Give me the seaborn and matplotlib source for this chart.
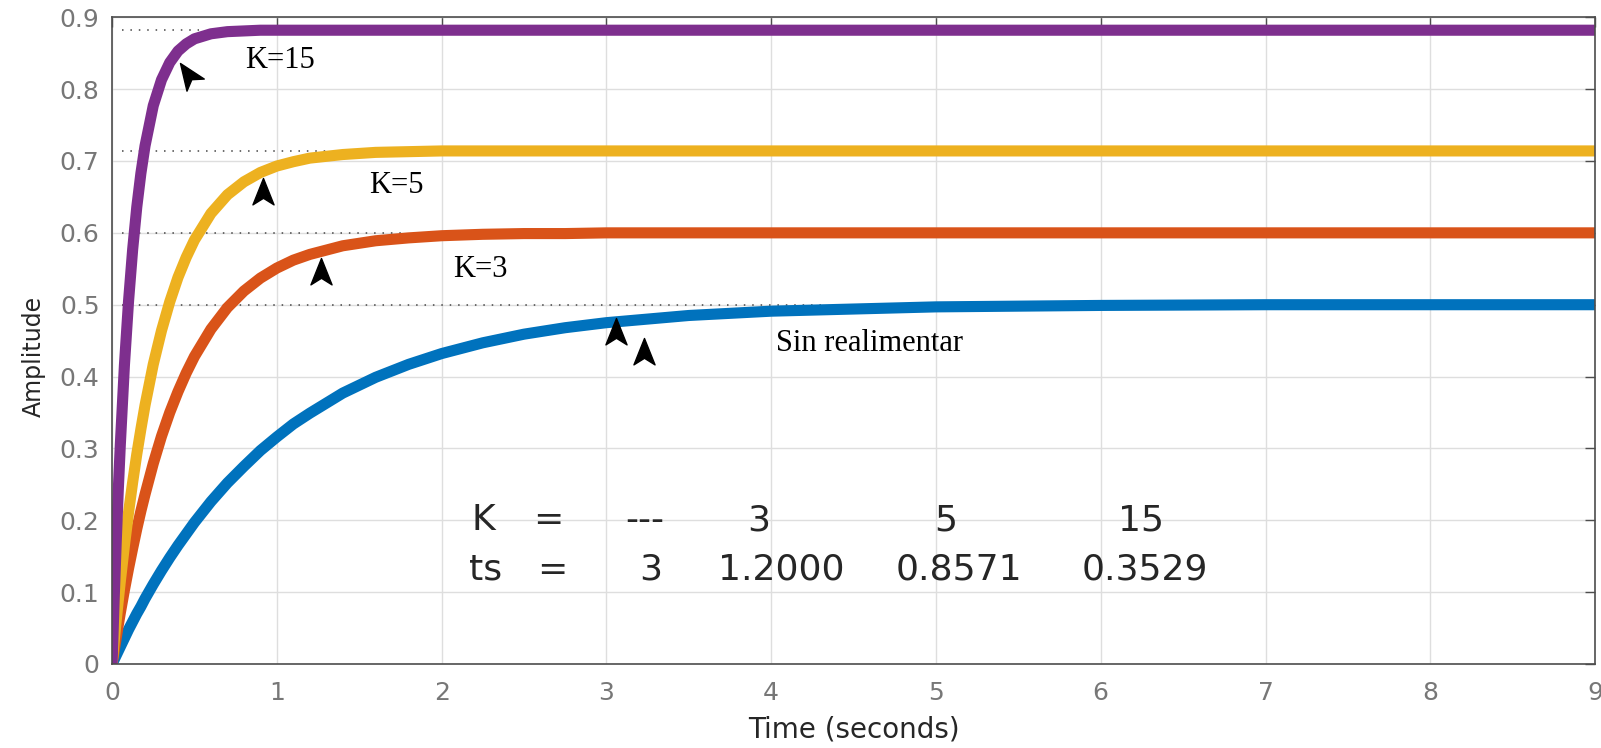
import pandas as pd
import matplotlib
matplotlib.use("Agg")
import matplotlib.pyplot as plt
import seaborn as sns
from matplotlib.path import Path
from matplotlib.markers import MarkerStyle
from matplotlib.transforms import Affine2D

# --- step responses ---
time = [0, 0.0125, 0.025, 0.0375, 0.05, 0.075, 0.1, 0.125, 0.15, 0.175, 0.2, 0.25, 0.3,
        0.35, 0.4, 0.45, 0.5, 0.6, 0.7, 0.8, 0.9, 1.0, 1.1, 1.2, 1.4, 1.6, 1.8, 2.0,
        2.25, 2.5, 2.75, 3.0, 3.5, 4.0, 4.5, 5.0, 6.0, 7.0, 8.0, 9.0]
sin_realimentar = [0, 0.006, 0.012, 0.018, 0.024, 0.036, 0.048, 0.059, 0.070, 0.080,
                   0.091, 0.111, 0.130, 0.148, 0.165, 0.181, 0.197, 0.226, 0.252, 0.275,
                   0.297, 0.316, 0.334, 0.349, 0.377, 0.399, 0.417, 0.432, 0.447, 0.459,
                   0.468, 0.475, 0.485, 0.491, 0.494, 0.497, 0.499, 0.500, 0.500, 0.500]
k3 = [0, 0.018, 0.036, 0.054, 0.071, 0.103, 0.133, 0.161, 0.188, 0.213,
      0.236, 0.279, 0.317, 0.350, 0.379, 0.405, 0.428, 0.466, 0.496, 0.519,
      0.537, 0.551, 0.562, 0.570, 0.582, 0.589, 0.593, 0.596, 0.598, 0.599,
      0.599, 0.600, 0.600, 0.600, 0.600, 0.600, 0.600, 0.600, 0.600, 0.600]
k5 = [0, 0.031, 0.060, 0.088, 0.115, 0.165, 0.211, 0.253, 0.292, 0.327,
      0.360, 0.417, 0.464, 0.504, 0.538, 0.566, 0.590, 0.627, 0.653, 0.671,
      0.684, 0.693, 0.699, 0.704, 0.709, 0.712, 0.713, 0.714, 0.714, 0.714,
      0.714, 0.714, 0.714, 0.714, 0.714, 0.714, 0.714, 0.714, 0.714, 0.714]
k15 = [0, 0.089, 0.169, 0.241, 0.305, 0.416, 0.505, 0.577, 0.636, 0.683,
       0.721, 0.777, 0.813, 0.837, 0.853, 0.863, 0.870, 0.877, 0.880, 0.881,
       0.882, 0.882, 0.882, 0.882, 0.882, 0.882, 0.882, 0.882, 0.882, 0.882,
       0.882, 0.882, 0.882, 0.882, 0.882, 0.882, 0.882, 0.882, 0.882, 0.882]

series_names = ["Sin realimentar", "K=3", "K=5", "K=15"]
colors = ["#0072BD", "#D95319", "#EDB120", "#7E2F8E"]

# steady-state marker lines
final_values = [0.500, 0.600, 0.714, 0.882]
dotted_start = 0.06
dotted_end = [4.32, 1.76, 1.31, 0.53]

# curve labels
label_text = ["Sin realimentar", "K=3", "K=5", "K=15"]
label_x = [4.03, 2.07, 1.56, 0.81]
label_y = [0.435, 0.538, 0.655, 0.829]

# data tip arrows
tip_x = [0.41, 0.915, 1.27, 3.06, 3.23]
tip_y = [0.836, 0.676, 0.565, 0.481, 0.453]
tip_angle = [35, 0, 0, 0, 0]

# table printed inside the axes
table_rows = [["K", "=", "---", "3", "5", "15"],
              ["ts", "=", "3", "1.2000", "0.8571", "0.3529"]]
table_x = [[2.255, 2.648, 3.230, 3.927, 5.061, 6.242],
           [2.267, 2.673, 3.267, 4.061, 5.139, 6.267]]
table_y = [0.186, 0.117]

xticks = list(range(10))
yticks = [0, 0.1, 0.2, 0.3, 0.4, 0.5, 0.6, 0.7, 0.8, 0.9]
ytick_labels = ["0", "0.1", "0.2", "0.3", "0.4", "0.5", "0.6", "0.7", "0.8", "0.9"]

sns.set_style("whitegrid")
plt.rcParams["font.family"] = ["DejaVu Sans"]

df = pd.DataFrame({
    "t": time * 4,
    "amp": sin_realimentar + k3 + k5 + k15,
    "serie": [n for n in series_names for _ in time],
})

fig = plt.figure(figsize=(16.01, 7.48), dpi=100)
ax = fig.add_axes([0.070, 0.1123, 0.9263, 0.8646])

sns.lineplot(data=df, x="t", y="amp", hue="serie", hue_order=series_names,
             palette=colors, linewidth=8, legend=False, errorbar=None, ax=ax)
for line in ax.lines:
    line.set_solid_joinstyle("round")
    line.set_solid_capstyle("butt")

# dotted steady-state lines
for yv, xe in zip(final_values, dotted_end):
    ax.plot([dotted_start, xe], [yv, yv], color="#444444", lw=1.1,
            linestyle=(0, (1, 4.5)), zorder=1)

# arrow markers (tip at the origin of the path)
arrow = Path([(0, 0), (0.8, -2), (0, -1.5), (-0.8, -2), (0, 0)],
             [Path.MOVETO, Path.LINETO, Path.LINETO, Path.LINETO, Path.CLOSEPOLY])
for xv, yv, ang in zip(tip_x, tip_y, tip_angle):
    m = MarkerStyle(arrow, transform=Affine2D().rotate_deg(ang))
    ax.plot([xv], [yv], marker=m, markersize=38, color="black",
            markeredgecolor="black", linestyle="none", zorder=5)

for txt, xv, yv in zip(label_text, label_x, label_y):
    ax.text(xv, yv, txt, family="Liberation Serif", fontsize=22,
            ha="left", va="baseline", color="black", zorder=6)

for row, xs, yv in zip(table_rows, table_x, table_y):
    for txt, xv in zip(row, xs):
        ax.text(xv, yv, txt, fontsize=26, ha="center", va="baseline",
                color="#262626", zorder=6)

ax.set_xlim(0, 9)
ax.set_ylim(0, 0.9)
ax.set_xticks(xticks)
ax.set_yticks(yticks)
ax.set_yticklabels(ytick_labels)
ax.grid(True, color="#dedede", lw=1)
for s in ax.spines.values():
    s.set_color("#4d4d4d")
    s.set_linewidth(1.2)
    s.set_visible(True)
ax.tick_params(direction="in", length=7, width=1, color="#4d4d4d",
               labelcolor="#777777", labelsize=18, top=True, right=True)
ax.tick_params(axis="x", pad=12)
ax.tick_params(axis="y", pad=9)

ax.set_xlabel("Time (seconds)", fontsize=20, color="#262626")
ax.set_ylabel("Amplitude", fontsize=17, color="#262626")
ax.xaxis.set_label_coords(0.5, -0.080)
ax.yaxis.set_label_coords(-0.045, 0.476)

fig.savefig("out.png", dpi=100)
